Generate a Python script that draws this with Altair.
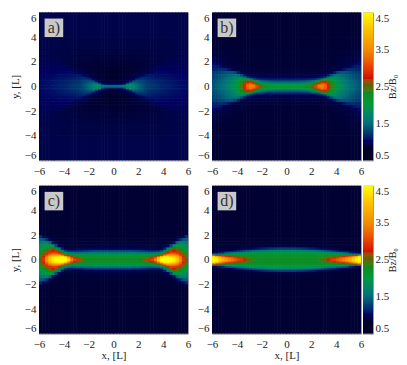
import altair as alt
import pandas as pd

# Quadrant tables: B/B0 x 100, rows run outward in |y|, columns outward in |x|
x_edges = [0.25 * i for i in range(25)]
y_edges = [0, .1, .2, .3, .4, .5, .65, .8, 1.0, 1.25, 1.5, 1.75, 2.0, 2.5, 3.0, 4.0, 6.0]

panel_a = [
 [150,150,152,160,175,180,165,150,140,132,125,122,120,118,115,112,110,110,108,106,105,104,103,102],
 [105,105,108,125,160,175,165,150,140,132,125,122,120,118,115,112,110,109,108,106,105,104,103,102],
 [ 88, 88, 90,100,125,150,155,145,137,130,124,120,118,116,114,112,110,109,107,106,105,104,103,102],
 [ 86, 86, 88, 90,100,120,140,138,132,128,122,118,116,115,113,111,109,108,107,105,104,103,102,102],
 [ 85, 85, 86, 88, 92,100,120,130,128,124,120,116,114,113,111,110,108,107,106,105,104,103,102,101],
 [ 84, 84, 85, 86, 88, 92,100,115,120,120,116,113,111,110,109,108,107,106,105,104,103,102,102,101],
 [ 83, 83, 84, 85, 86, 88, 90, 96,105,112,112,110,108,107,106,106,105,105,104,103,102,102,101,101],
 [ 82, 82, 83, 84, 85, 86, 87, 90, 92, 98,104,106,105,104,104,103,103,103,102,102,101,101,100,100],
 [ 82, 82, 82, 83, 84, 85, 86, 86, 88, 90, 92, 96,100,102,102,101,101,101,100,100,100, 99, 99, 99],
 [ 83, 83, 83, 83, 84, 84, 85, 85, 86, 87, 88, 90, 92, 96, 99,100,100, 99, 99, 99, 98, 98, 98, 98],
 [ 84, 84, 84, 84, 84, 85, 85, 85, 85, 86, 87, 87, 88, 90, 92, 95, 97, 97, 97, 97, 97, 97, 96, 96],
 [ 85, 85, 85, 85, 85, 85, 85, 86, 86, 86, 87, 87, 87, 88, 89, 90, 92, 94, 95, 95, 95, 95, 95, 95],
 [ 86, 86, 86, 86, 86, 86, 86, 87, 87, 87, 87, 88, 88, 88, 89, 89, 90, 90, 91, 92, 93, 93, 94, 94],
 [ 88, 88, 88, 88, 88, 88, 88, 88, 88, 88, 89, 89, 89, 89, 89, 90, 90, 90, 90, 91, 91, 92, 92, 93],
 [ 90, 90, 90, 90, 90, 90, 90, 90, 90, 90, 90, 90, 90, 90, 90, 90, 90, 91, 91, 91, 91, 91, 92, 92],
 [ 92, 92, 92, 92, 92, 92, 92, 92, 92, 92, 92, 92, 92, 92, 92, 92, 92, 92, 92, 92, 92, 92, 92, 92],
]

panel_b = [
 [200,200,200,200,205,210,220,240,265,300,335,340,320,280,240,205,190,180,170,160,150,145,140,135],
 [200,200,200,200,200,200,205,215,230,265,315,330,315,275,235,205,190,180,170,160,150,145,140,135],
 [170,170,170,170,172,175,180,190,205,230,280,310,300,265,232,205,190,178,168,158,150,145,140,135],
 [145,145,145,146,148,150,155,165,175,200,240,275,275,250,225,200,187,175,165,157,148,143,138,134],
 [125,125,125,126,128,130,135,140,150,175,210,240,245,230,212,195,180,170,162,154,146,141,136,132],
 [110,110,110,110,110,110,112,114,118,125,140,170,200,205,195,185,175,165,158,150,143,138,134,130],
 [ 98, 98, 98, 98, 98, 98, 98, 98, 99,100,102,108,125,155,175,175,168,160,153,147,140,135,131,127],
 [ 90, 90, 90, 90, 90, 90, 90, 90, 90, 92, 93, 94, 98,108,132,150,155,150,146,142,138,133,130,126],
 [ 87, 87, 87, 87, 87, 87, 87, 87, 87, 87, 87, 87, 88, 90, 95,108,128,135,135,133,130,127,124,122],
 [ 86, 86, 86, 86, 86, 86, 86, 86, 86, 86, 86, 86, 87, 87, 88, 88, 90, 95,105,112,115,115,113,112],
 [ 85, 85, 85, 85, 85, 85, 85, 85, 85, 85, 85, 85, 86, 86, 87, 87, 88, 88, 89, 92, 98,105,108,108],
 [ 85, 85, 85, 85, 85, 85, 85, 85, 85, 85, 85, 85, 85, 85, 86, 86, 87, 87, 88, 89, 90, 93, 98,102],
 [ 85, 85, 85, 85, 85, 85, 85, 85, 85, 85, 85, 85, 85, 85, 85, 86, 86, 86, 87, 87, 88, 88, 90, 94],
 [ 85, 85, 85, 85, 85, 85, 85, 85, 85, 85, 85, 85, 85, 85, 85, 85, 85, 86, 86, 86, 86, 87, 87, 87],
 [ 84, 84, 84, 84, 84, 84, 84, 84, 84, 84, 84, 84, 84, 84, 84, 84, 84, 84, 84, 85, 85, 85, 85, 85],
 [ 84, 84, 84, 84, 84, 84, 84, 84, 84, 84, 84, 84, 84, 84, 84, 84, 84, 84, 84, 84, 84, 84, 84, 84],
]

panel_c = [
 [225,225,225,225,225,225,225,225,230,240,262,285,300,340,420,450,450,450,450,440,410,350,290,250],
 [222,222,222,222,222,222,222,222,225,230,240,255,272,305,380,440,450,450,445,430,400,345,285,245],
 [215,215,215,215,215,215,215,215,215,218,222,228,240,265,320,390,430,430,420,405,380,330,275,240],
 [205,205,205,205,205,205,205,205,205,206,208,210,215,225,250,295,350,375,375,365,345,305,265,232],
 [185,185,185,185,185,185,185,185,185,185,185,185,188,192,205,235,285,320,330,330,315,285,255,225],
 [160,160,160,160,160,160,160,158,155,152,150,148,148,150,158,180,225,275,295,295,285,265,240,215],
 [128,128,128,128,128,128,126,124,120,118,114,112,110,110,112,125,170,225,265,270,260,245,225,205],
 [100,100,100,100,100,100, 99, 98, 96, 95, 93, 92, 90, 90, 90, 95,110,165,215,245,240,225,205,190],
 [ 88, 88, 88, 88, 88, 88, 88, 88, 87, 87, 87, 87, 87, 87, 87, 87, 90,100,130,180,200,195,185,175],
 [ 85, 85, 85, 85, 85, 85, 85, 85, 85, 85, 85, 85, 85, 85, 85, 85, 85, 86, 90,105,145,165,165,158],
 [ 85, 85, 85, 85, 85, 85, 85, 85, 85, 85, 85, 85, 85, 85, 85, 85, 85, 85, 85, 88, 95,115,135,140],
 [ 85, 85, 85, 85, 85, 85, 85, 85, 85, 85, 85, 85, 85, 85, 85, 85, 85, 85, 85, 85, 86, 90,100,115],
 [ 84, 84, 84, 84, 84, 84, 84, 84, 84, 84, 84, 84, 84, 84, 84, 84, 84, 84, 84, 84, 84, 84, 85, 88],
 [ 84, 84, 84, 84, 84, 84, 84, 84, 84, 84, 84, 84, 84, 84, 84, 84, 84, 84, 84, 84, 84, 84, 84, 84],
 [ 84, 84, 84, 84, 84, 84, 84, 84, 84, 84, 84, 84, 84, 84, 84, 84, 84, 84, 84, 84, 84, 84, 84, 84],
 [ 84, 84, 84, 84, 84, 84, 84, 84, 84, 84, 84, 84, 84, 84, 84, 84, 84, 84, 84, 84, 84, 84, 84, 84],
]

panel_d = [
 [225,225,225,225,225,225,225,225,225,225,232,242,255,275,290,300,315,330,345,365,385,410,440,450],
 [224,224,224,224,224,224,224,224,224,224,226,232,240,250,265,280,295,310,325,345,365,395,430,445],
 [220,220,220,220,220,220,220,220,220,220,220,222,226,233,238,245,255,265,280,295,315,345,385,420],
 [215,215,215,215,215,215,215,215,215,215,215,215,215,215,215,215,216,220,222,228,235,255,285,320],
 [208,208,208,208,208,208,208,208,208,208,208,207,206,205,203,200,198,195,192,188,165,160,155,150],
 [195,195,195,195,195,195,194,193,192,191,190,185,180,175,170,165,158,150,142,135,115,108,102, 98],
 [170,170,170,168,168,165,162,160,156,152,148,142,135,128,120,112,105,100, 96, 93, 90, 88, 87, 86],
 [125,125,124,122,120,118,115,112,108,105,102, 99, 96, 93, 91, 90, 88, 87, 86, 85, 85, 85, 85, 85],
 [ 90, 90, 90, 89, 89, 88, 88, 87, 87, 86, 86, 85, 85, 85, 85, 85, 85, 85, 85, 85, 85, 85, 85, 85],
 [ 85, 85, 85, 85, 85, 85, 85, 85, 85, 85, 85, 85, 85, 84, 84, 84, 84, 84, 84, 84, 84, 84, 84, 84],
 [ 84, 84, 84, 84, 84, 84, 84, 84, 84, 84, 84, 84, 84, 84, 84, 84, 84, 84, 84, 84, 84, 84, 84, 84],
 [ 84, 84, 84, 84, 84, 84, 84, 84, 84, 84, 84, 84, 84, 84, 84, 84, 84, 84, 84, 84, 84, 84, 84, 84],
 [ 84, 84, 84, 84, 84, 84, 84, 84, 84, 84, 84, 84, 84, 84, 84, 84, 84, 84, 84, 84, 84, 84, 84, 84],
 [ 84, 84, 84, 84, 84, 84, 84, 84, 84, 84, 84, 84, 84, 84, 84, 84, 84, 84, 84, 84, 84, 84, 84, 84],
 [ 84, 84, 84, 84, 84, 84, 84, 84, 84, 84, 84, 84, 84, 84, 84, 84, 84, 84, 84, 84, 84, 84, 84, 84],
 [ 84, 84, 84, 84, 84, 84, 84, 84, 84, 84, 84, 84, 84, 84, 84, 84, 84, 84, 84, 84, 84, 84, 84, 84],
]

tick_values = [-6, -4, -2, 0, 2, 4, 6]
bar_ticks = [0.5, 1.5, 2.5, 3.5, 4.5]
bar_levels = [0.5 + 0.05 * i for i in range(80)]
cmap_domain = [0.5, 0.8, 1.0, 1.25, 1.5, 1.75, 2.0, 2.3, 2.5, 2.7, 3.0, 3.5, 4.0, 4.5]
cmap_colors = ["#000000", "#000028", "#000060", "#004070", "#007078", "#008860", "#009a38",
               "#108a20", "#606010", "#d01000", "#e84000", "#f09000", "#fcc000", "#ffff00"]
label_box_x = [-5.55, -4.05]
label_box_y = [4.0, 5.5]
label_pos = [-4.8, 4.75]

FONT = "Liberation Serif"
INK = "#222222"
FS = 11
W, H = 149, 148
overlap = 0.05  # each cell slides under its inner neighbour so no seams show

color_scale = alt.Scale(domain=cmap_domain, range=cmap_colors)
pos_scale = alt.Scale(domain=[-6, 6], nice=False)


def quadrants(table):
    rows = []
    for j in range(len(table) - 1, -1, -1):
        row = table[j]
        for i in range(len(row) - 1, -1, -1):
            for sx in (-1, 1):
                for sy in (-1, 1):
                    rows.append({"x": sx * (x_edges[i] - overlap), "x2": sx * x_edges[i + 1],
                                 "y": sy * (y_edges[j] - overlap), "y2": sy * y_edges[j + 1],
                                 "v": row[i] / 100})
    return pd.DataFrame(rows)


def panel(table, letter, show_x_title, show_y_title):
    x_axis = alt.Axis(values=tick_values, title="x, [L]" if show_x_title else None, ticks=False,
                      grid=False, domain=False, labelFont=FONT, labelFontSize=FS, labelColor=INK,
                      labelPadding=5, titleFont=FONT, titleFontSize=FS, titleFontWeight="normal",
                      titleColor=INK, titlePadding=0, labelOverlap=False, labelFlush=False)
    y_axis = alt.Axis(values=tick_values, title="y, [L]" if show_y_title else None, ticks=False,
                      grid=False, domain=False, labelFont=FONT, labelFontSize=FS, labelColor=INK,
                      labelPadding=3, titleFont=FONT, titleFontSize=FS, titleFontWeight="normal",
                      titleColor=INK, titlePadding=4, labelOverlap=False, labelFlush=True)
    enc_x = alt.X("x:Q", axis=x_axis, scale=pos_scale)
    enc_y = alt.Y("y:Q", axis=y_axis, scale=pos_scale)
    heat = alt.Chart(quadrants(table)).mark_rect().encode(
        x=enc_x, x2="x2:Q", y=enc_y, y2="y2:Q",
        color=alt.Color("v:Q", scale=color_scale, legend=None),
    )
    box_df = pd.DataFrame({"x": [label_box_x[0]], "x2": [label_box_x[1]],
                           "y": [label_box_y[0]], "y2": [label_box_y[1]]})
    box = alt.Chart(box_df).mark_rect(color="#c9c9c9").encode(x=enc_x, x2="x2:Q", y=enc_y, y2="y2:Q")
    text = alt.Chart(pd.DataFrame({"x": [label_pos[0]], "y": [label_pos[1]], "t": [letter + ")"]})).mark_text(
        font=FONT, fontSize=16, color="#333333", baseline="middle", align="center"
    ).encode(x=enc_x, y=enc_y, text="t:N")
    return alt.layer(heat, box, text).properties(width=W, height=H)


def colorbar():
    df = pd.DataFrame({"lo": bar_levels, "hi": [min(v + 0.08, 4.5) for v in bar_levels]})
    return alt.Chart(df).mark_rect().encode(
        y=alt.Y("lo:Q", scale=alt.Scale(domain=[0.5, 4.5], nice=False),
                axis=alt.Axis(orient="right", values=bar_ticks, format=".1f", title="Bz/B₀", ticks=False,
                              grid=False, domain=False, labelFont=FONT, labelFontSize=FS, labelColor=INK,
                              labelPadding=2, titleFont=FONT, titleFontSize=10, titleFontWeight="normal",
                              titleColor=INK, titleAngle=270, titlePadding=9, labelOverlap=False,
                              labelFlush=True)),
        y2="hi:Q",
        color=alt.Color("lo:Q", scale=color_scale, legend=None),
    ).properties(width=10, height=H)


def spacer():
    return alt.Chart(pd.DataFrame({"a": [0]})).mark_point(opacity=0).encode(
        x=alt.value(0), y=alt.value(0)
    ).properties(width=20, height=H, view=alt.ViewConfig(stroke="transparent"))


chart = alt.ConcatChart(
    concat=[panel(panel_a, "a", False, True), spacer(), panel(panel_b, "b", False, False), colorbar(),
            panel(panel_c, "c", True, True), spacer(), panel(panel_d, "d", True, False), colorbar()],
    columns=4, bounds="flush", spacing=alt.RowColnumber(row=25.3, column=2),
).properties(
    padding={"left": 0, "top": 0.4, "right": 0, "bottom": 0},
    background="white",
).configure_view(stroke="#9a9a9a", strokeWidth=1)

chart.save("out.html", embed_options={"renderer": "svg", "actions": False})
